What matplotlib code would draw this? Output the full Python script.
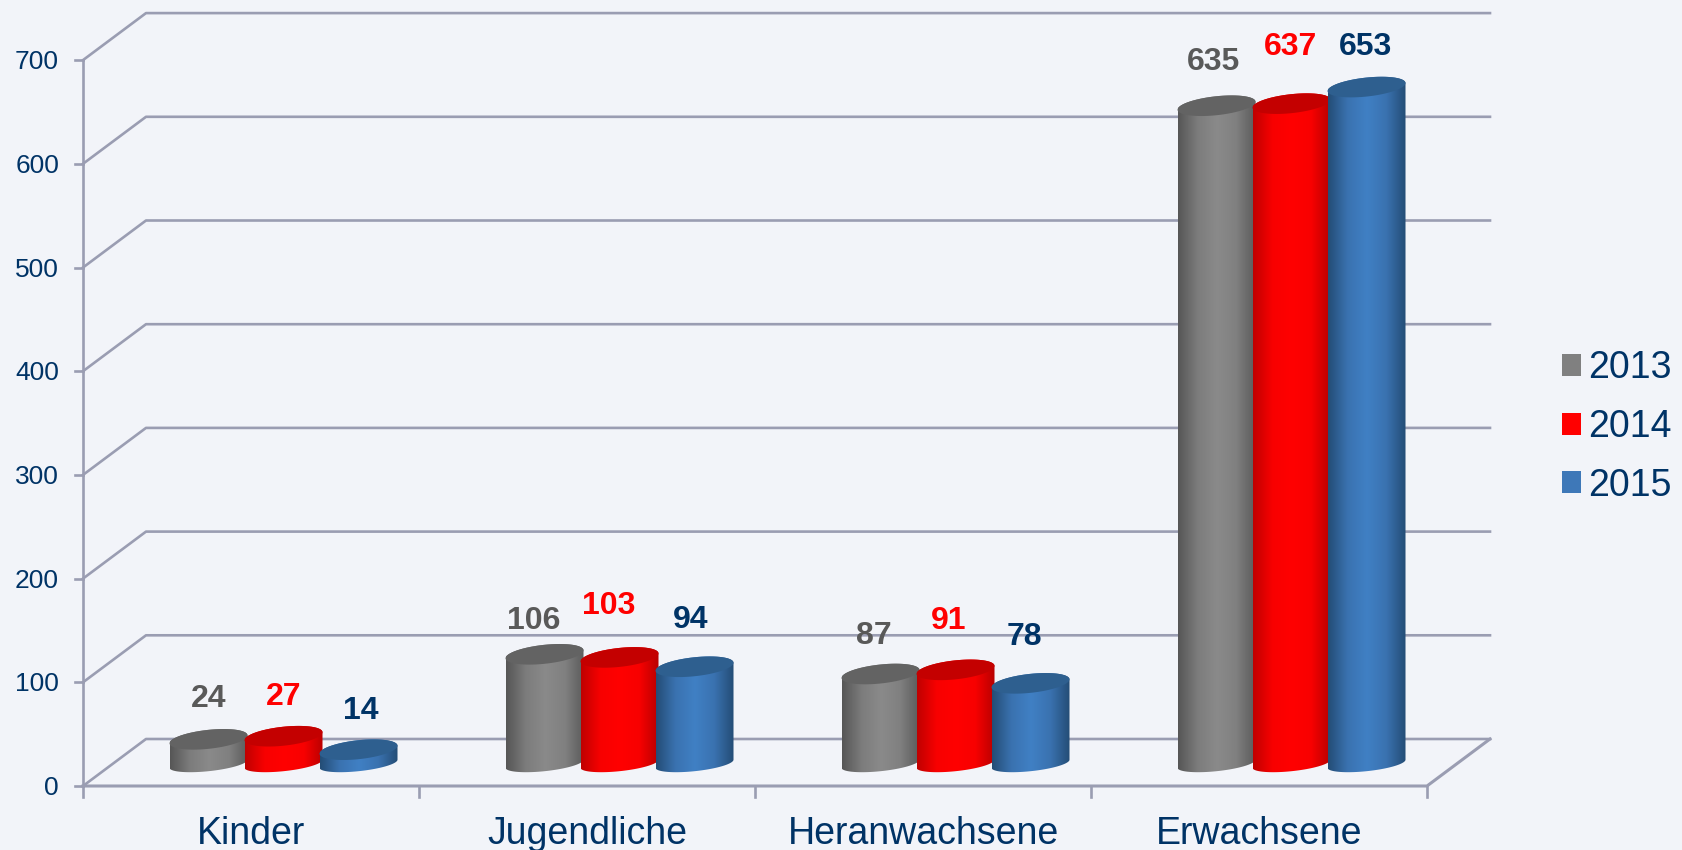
import numpy as np
import matplotlib
matplotlib.use('Agg')
import matplotlib.pyplot as plt
from matplotlib.colors import LinearSegmentedColormap
from matplotlib.patches import Patch, Polygon

plt.rcParams['font.family'] = ['Liberation Sans', 'DejaVu Sans']

# Daten
categories = ['Kinder', 'Jugendliche', 'Heranwachsene', 'Erwachsene']
years = ['2013', '2014', '2015']
values_2013 = [24, 106, 87, 635]
values_2014 = [27, 103, 91, 637]
values_2015 = [14, 94, 78, 653]
y_ticks = [0, 100, 200, 300, 400, 500, 600, 700]

# Farben
bg = '#f2f4f9'
grid_col = '#9a9db2'
navy = '#003366'
label_cols = ['#595959', '#ff0000', '#003366']
legend_cols = ['#808080', '#ff0000', '#3e78b8']
top_cols = ['#636363', '#c40000', '#2e5f8f']
body_cols = [['#565656', '#7c7c7c', '#8a8a8a', '#808080', '#5a5a5a'],
             ['#c00000', '#f80000', '#ff0000', '#f80000', '#b80000'],
             ['#244d76', '#3a72b0', '#4080c4', '#3a72b0', '#244d76']]

# Massstab: Pixel pro Kategorie / pro Wert
px_x = 336
px_y = 1.037
depth_x = 63 / px_x
depth_y = 47 / px_y
bar_w = 75 / px_x
half_w = 39 / px_x
top_b = 9.5 / px_y
base_b = 7.5 / px_y
tilt = 4 / px_y
floor_y = 21
# Lage der Zahlen relativ zum Zylinder (Pixel), je Jahr und Kategorie
label_lift = [[40.5, 33.5, 38.5, 43.5],
              [39.5, 51.5, 48.5, 56.5],
              [38.5, 46.5, 46.5, 40.5]]
label_shift = [[0, -11, -7, -3],
               [0, -11, -7, -1],
               [2, -4, -6, -1]]

fig = plt.figure(figsize=(16.82, 8.5), dpi=100, facecolor=bg)
ax = fig.add_axes([0, 0, 1, 1])
ax.set_facecolor(bg)
ax.axis('off')
x_min, x_max = -83 / px_x, (1682 - 83) / px_x
y_min, y_max = (786 - 850) / px_y, 786 / px_y


def ellipse(cx, cy, b, start, end):
    t = np.linspace(start, end, 60)
    return cx + half_w * np.cos(t), cy + b * np.sin(t) + tilt * np.cos(t)


# Gitter und Achsen
for v in y_ticks:
    ax.plot([0, depth_x, 4 + depth_x], [v, v + depth_y, v + depth_y], color=grid_col, lw=1.9, zorder=1)
    ax.plot([-8 / px_x, 0], [v, v], color=grid_col, lw=1.9, zorder=1)
    ax.text(-24 / px_x, v - 2, str(v), ha='right', va='center', fontsize=19, color=navy)
ax.plot([0, 0], [0, 700], color=grid_col, lw=1.9, zorder=1)
ax.plot([0, 4, 4 + depth_x], [0, 0, depth_y], color=grid_col, lw=2.2, zorder=1)
for i in range(5):
    ax.plot([i, i], [0, -11 / px_y], color=grid_col, lw=1.9, zorder=1)
for i, name in enumerate(categories):
    ax.text(i + 0.5, -47.5 / px_y, name, ha='center', va='center', fontsize=27, color=navy)

# Zylinder
series = [values_2013, values_2014, values_2015]
for s, vals in enumerate(series):
    cmap = LinearSegmentedColormap.from_list('body%d' % s, body_cols[s])
    for i, v in enumerate(vals):
        cx = i + 0.5 + depth_x / 2 + 1 / px_x + (s - 1) * bar_w
        top = floor_y + v
        bx, by = ellipse(cx, 21.5, base_b, np.pi, 2 * np.pi)
        tx, ty = ellipse(cx, top, top_b, 0, np.pi)
        body = Polygon(np.column_stack([np.r_[bx, tx], np.r_[by, ty]]), closed=True,
                       facecolor='none', edgecolor='none', transform=ax.transData)
        ax.add_patch(body)
        img = ax.imshow(np.linspace(0, 1, 200).reshape(1, -1), cmap=cmap, aspect='auto',
                        extent=[cx - half_w, cx + half_w, floor_y - 20, top + 20], zorder=2 + s)
        img.set_clip_path(body)
        ex, ey = ellipse(cx, top, top_b, 0, 2 * np.pi)
        ax.fill(ex, ey, color=top_cols[s], lw=0, zorder=2 + s)
        ax.text(cx + label_shift[s][i] / px_x, top + label_lift[s][i] / px_y, str(v), ha='center', va='center',
                fontsize=23, fontweight='bold', color=label_cols[s], zorder=6)

ax.set_xlim(x_min, x_max)
ax.set_ylim(y_min, y_max)

# Legende
handles = [Patch(facecolor=c, edgecolor='none') for c in legend_cols]
leg = ax.legend(handles, years, loc='center left', bbox_to_anchor=(1562 / 1682, 1 - 427 / 850),
                frameon=False, fontsize=27, labelcolor=navy, handlelength=0.51, handleheight=0.51,
                handletextpad=0.2, labelspacing=0.6, borderpad=0, borderaxespad=0)

fig.savefig('out.png', dpi=100, facecolor=bg)
